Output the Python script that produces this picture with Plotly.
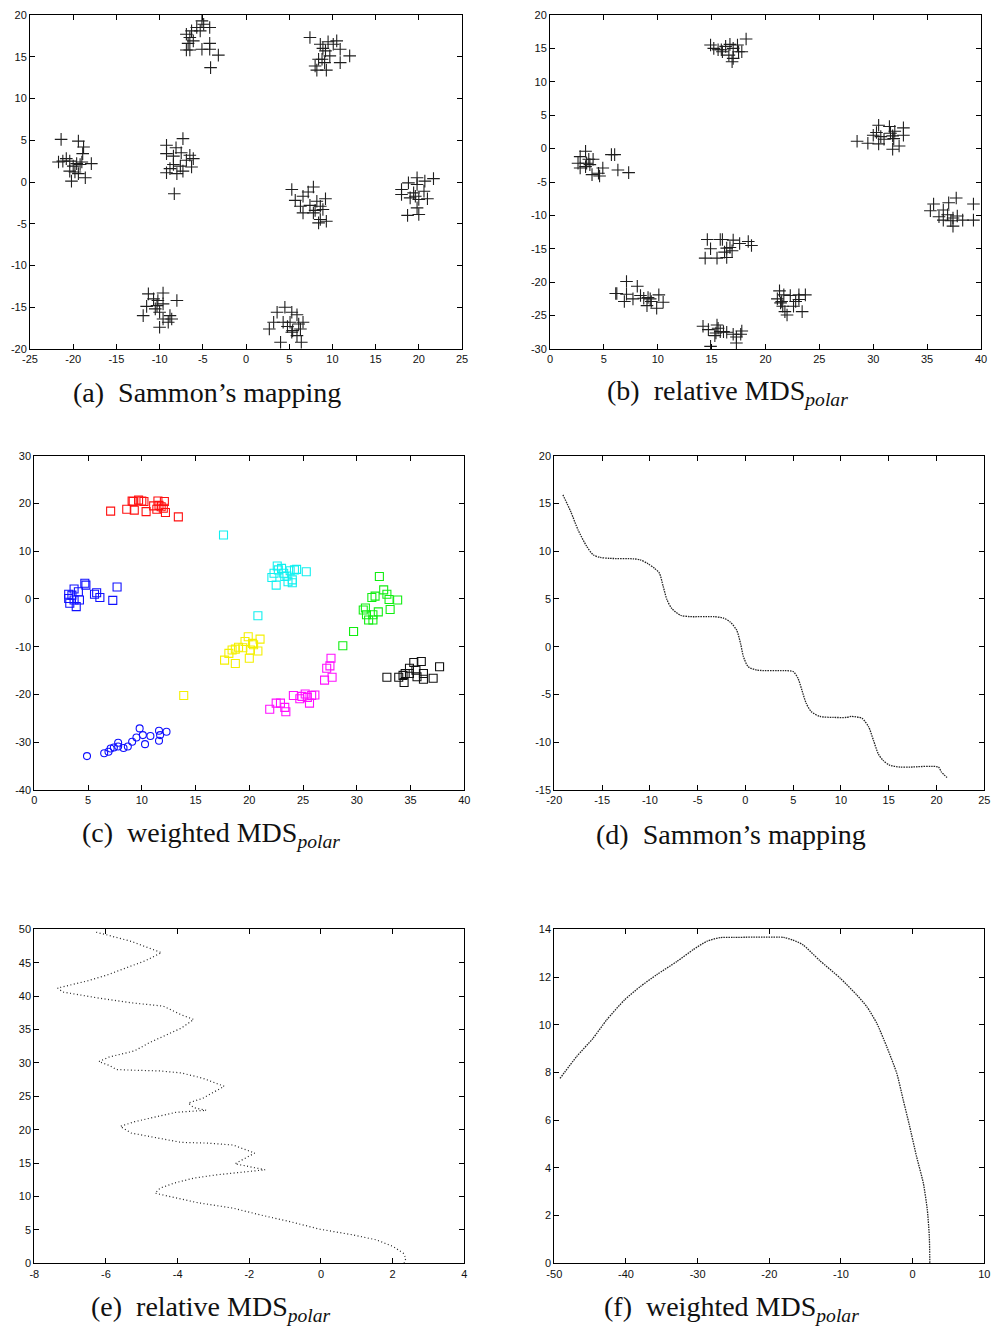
import plotly.graph_objects as go

W, H = 991, 1331

# ---------------- (a) Sammon's mapping : scattered clusters ----------------
a_x = [-21.4, -19.4, -18.8, -18.9, -21.7, -20.8, -20.4, -19.6, -19.0, -17.9, -20.4, -19.8, -19.4, -20.2, -18.6, -21.2, -20.0, -19.2,
       -9.2, -7.3, -8.1, -7.5, -9.2, -8.4, -6.5, -6.1, -6.9, -8.4, -7.6, -6.3, -9.2, -8.0, -7.3, -8.3, -8.8,
       -6.9, -6.3, -5.7, -4.9, -5.1, -4.2, -5.3, -6.5, -6.1, -6.9, -6.5, -5.1, -4.2, -4.2, -3.2, -4.1, -6.7,
       7.4, 8.6, 9.5, 10.1, 10.5, 10.9, 9.2, 9.7, 12.0, 10.9, 8.4, 8.8, 8.0, 8.2, 9.3, 9.1, 8.9,
       5.3, 7.8, 7.2, 6.6, 5.7, 9.2, 8.2, 6.3, 7.4, 8.6, 8.0, 8.9, 6.6, 7.8, 8.6, 9.3, 8.4,
       18.0, 18.8, 19.8, 20.7, 21.7, 19.8, 20.6, 18.0, 19.0, 19.6, 20.0, 21.0, 19.8, 18.7, 20.0, 19.4,
       -11.3, -9.6, -8.0, -10.7, -10.2, -11.5, -10.3, -9.6, -11.9, -10.0, -8.8, -8.6, -9.6, -9.0, -10.0, -10.5,
       4.5, 3.6, 5.3, 5.9, 3.2, 4.3, 5.1, 6.1, 6.6, 2.7, 5.4, 6.3, 5.3, 5.9, 4.0, 6.4, 4.8]
a_y = [5.1, 4.9, 4.2, 3.4, 2.4, 2.8, 2.5, 2.2, 2.4, 2.2, 1.3, 1.2, 1.0, 0.1, 0.5, 2.5, 1.9, 2.1,
       4.4, 5.2, 4.1, 3.5, 3.4, 3.1, 3.2, 2.8, 2.6, 2.1, 1.9, 1.8, 1.1, 1.0, 1.3, -1.4, 1.6,
       17.7, 18.1, 18.5, 18.9, 19.3, 18.5, 18.1, 17.3, 16.9, 15.8, 15.8, 15.9, 16.6, 15.9, 15.2, 13.7, 16.6,
       17.3, 16.5, 16.8, 16.5, 16.9, 15.9, 15.7, 15.1, 15.1, 14.3, 14.7, 14.7, 13.9, 13.4, 13.4, 14.3, 16.0,
       -0.9, -0.6, -1.2, -1.7, -2.2, -2.0, -2.3, -2.9, -2.8, -2.9, -3.4, -3.3, -3.7, -3.7, -4.5, -4.7, -4.9,
       -0.9, -0.1, 0.5, 0.1, 0.4, -0.3, -1.1, -1.5, -1.9, -1.7, -2.1, -2.0, -3.1, -4.0, -3.9, -1.3,
       -13.4, -13.3, -14.2, -14.0, -14.2, -14.9, -14.8, -14.6, -16.0, -15.6, -16.0, -16.4, -16.4, -16.8, -17.4, -15.2,
       -15.0, -15.6, -15.6, -15.9, -16.8, -16.8, -16.8, -17.0, -16.8, -17.6, -17.8, -17.6, -18.0, -18.4, -19.2, -19.2, -17.3]

# ---------------- (b) relative MDS polar : scattered clusters ----------------
b_x = [14.9, 15.2, 15.6, 16.0, 16.3, 16.7, 17.0, 17.4, 18.2, 16.6, 17.0, 16.9, 17.8, 17.5, 15.9,
       3.3, 2.8, 3.6, 4.0, 2.6, 3.4, 3.7, 2.8, 3.3, 3.9, 4.5, 4.9, 5.7, 6.0, 6.3, 7.3, 4.6,
       28.5, 29.5, 30.0, 30.3, 30.5, 30.7, 30.5, 31.5, 31.6, 31.8, 31.9, 31.8, 32.8, 32.8, 32.4, 31.0, 32.0,
       35.3, 35.6, 36.1, 36.5, 36.9, 37.0, 37.7, 37.2, 37.4, 37.4, 37.8, 38.3, 39.3, 39.3, 36.5,
       14.6, 14.9, 14.4, 15.8, 16.0, 17.0, 17.6, 18.4, 18.7, 16.4, 16.7, 16.2, 15.5, 16.4, 16.9,
       7.1, 8.1, 6.1, 6.2, 7.1, 7.7, 8.4, 9.1, 9.3, 10.1, 10.5, 6.9, 9.0, 9.9, 8.7, 9.4,
       21.3, 21.7, 21.1, 21.4, 21.6, 21.8, 22.0, 22.3, 22.8, 22.6, 23.1, 23.4, 23.7, 23.1, 21.5,
       14.2, 14.7, 15.5, 15.6, 15.8, 15.4, 14.9, 16.4, 17.0, 17.3, 17.3, 17.8, 17.7, 16.1, 15.3]
b_y = [15.5, 15.0, 14.8, 14.5, 15.3, 15.6, 15.0, 15.5, 16.4, 14.0, 13.5, 13.0, 14.5, 14.5, 14.8,
       -0.4, -1.2, -1.6, -1.6, -2.2, -2.2, -2.4, -2.9, -2.7, -3.9, -3.7, -2.9, -0.9, -0.9, -3.2, -3.6, -4.1,
       1.1, 0.8, 2.0, 2.4, 3.5, 1.8, 0.7, 3.3, 2.3, 1.9, 1.5, -0.1, 3.1, 2.0, 0.4, 1.4, 2.6,
       -9.3, -8.3, -10.2, -9.2, -9.9, -8.1, -7.4, -10.8, -10.4, -11.6, -10.1, -10.7, -8.3, -10.7, -10.7,
       -13.6, -15.0, -16.4, -13.6, -13.6, -13.7, -14.2, -13.9, -14.5, -14.9, -14.8, -15.5, -16.4, -16.3, -15.3,
       -19.9, -20.6, -21.7, -21.7, -21.8, -22.5, -22.0, -22.3, -22.5, -21.9, -23.0, -22.9, -23.5, -23.9, -22.4, -22.9,
       -21.3, -21.9, -22.5, -23.1, -23.6, -24.4, -24.9, -22.0, -22.9, -23.6, -22.6, -24.4, -21.9, -21.9, -22.9,
       -26.6, -27.1, -26.4, -26.9, -27.4, -27.6, -29.6, -27.5, -27.8, -28.2, -29.1, -27.3, -27.8, -27.4, -28.0]

# ---------------- (c) weighted MDS polar : coloured groups ----------------
c_red_x = [7.1, 8.6, 9.1, 9.3, 10.0, 10.2, 10.4, 11.1, 11.5, 11.4, 12.0, 12.1, 12.2, 13.4, 9.2, 9.7, 11.6, 11.8]
c_red_y = [18.4, 18.8, 20.5, 18.6, 20.5, 20.4, 18.3, 19.5, 20.5, 18.8, 19.0, 20.4, 18.1, 17.2, 20.4, 20.7, 19.6, 19.3]
c_cyan_x = [17.6, 20.8, 22.1, 22.3, 22.6, 22.7, 23.0, 22.5, 23.2, 23.5, 23.8, 23.6, 24.0, 24.2, 24.4, 25.3, 23.3, 24.0]
c_cyan_y = [13.4, -3.5, 4.5, 5.4, 6.9, 6.1, 6.4, 2.9, 5.4, 4.8, 5.9, 3.6, 3.4, 6.1, 6.2, 5.7, 4.7, 4.0]
c_blue_x = [3.2, 3.2, 3.3, 3.7, 3.9, 4.2, 4.1, 4.7, 4.8, 5.6, 5.8, 6.1, 7.3, 7.7, 3.5, 3.7]
c_blue_y = [1.0, 0.1, -0.9, 2.1, -1.6, -0.2, 1.5, 3.3, 2.9, 1.0, 1.3, 0.3, -0.3, 2.5, 0.8, -0.2]
c_circ_x = [4.9, 6.5, 6.9, 7.1, 7.4, 7.8, 7.8, 8.3, 8.7, 9.1, 9.5, 9.8, 10.1, 10.3, 10.8, 11.6, 11.7, 11.6, 12.3]
c_circ_y = [-32.9, -32.3, -32.0, -31.3, -31.1, -30.9, -30.1, -31.2, -30.9, -29.9, -29.0, -27.1, -28.5, -30.4, -28.7, -27.6, -28.5, -29.7, -27.8]
c_yellow_x = [13.9, 17.7, 18.7, 18.1, 18.4, 19.0, 19.6, 19.9, 20.0, 20.1, 20.4, 20.8, 21.0, 19.4, 18.7, 20.3]
c_yellow_y = [-20.2, -12.8, -13.5, -11.4, -10.7, -10.1, -8.9, -7.9, -12.4, -10.7, -9.6, -10.9, -8.4, -10.2, -10.5, -9.3]
c_mag_x = [21.9, 22.5, 22.9, 23.3, 23.4, 24.1, 24.7, 24.9, 25.2, 25.6, 25.8, 26.1, 27.0, 27.2, 27.5, 27.7, 27.6, 25.4]
c_mag_y = [-23.1, -21.8, -21.8, -22.7, -23.6, -20.2, -20.9, -20.4, -19.9, -21.8, -20.2, -20.1, -17.0, -14.5, -14.0, -16.4, -12.4, -20.6]
c_green_x = [28.7, 29.7, 32.1, 30.6, 30.9, 31.1, 31.5, 31.4, 31.7, 32.0, 32.5, 32.8, 33.0, 33.1, 33.8, 30.8, 31.5]
c_green_y = [-9.8, -6.8, 4.7, -2.3, -3.3, -4.4, -4.4, 0.3, 0.6, -2.7, 1.9, 1.0, -0.1, -2.2, -0.2, -1.9, -3.3]
c_black_x = [32.8, 33.9, 34.4, 34.5, 34.9, 35.3, 35.5, 35.6, 36.0, 36.2, 36.2, 37.1, 37.7, 34.3, 34.9]
c_black_y = [-16.4, -16.4, -17.5, -15.6, -14.5, -13.3, -14.9, -16.3, -13.1, -15.6, -16.8, -16.6, -14.2, -16.0, -15.6]

# ---------------- (d) Sammon's mapping : staircase curve ----------------
d_x = [-19.1, -18.3, -17.5, -16.6, -15.9, -15.2, -14.2, -11.7, -11.0, -10.2, -9.5, -9.0, -8.6, -8.2, -7.7, -6.8,
       -5.8, -3.3, -2.3, -1.6, -0.9, -0.5, -0.2, 0.3, 1.2, 4.0, 5.0, 5.5, 5.9, 6.35, 6.9, 7.8, 9.2, 10.6, 11.1,
       12.2, 12.9, 13.4, 13.9, 14.4, 15.1, 16.2, 17.2, 20.2, 20.5, 21.1]
d_y = [15.9, 14.2, 12.2, 10.5, 9.6, 9.35, 9.25, 9.2, 9.1, 8.7, 8.2, 7.7, 6.3, 4.9, 4.0, 3.3,
       3.15, 3.15, 3.0, 2.6, 1.7, 0.3, -1.05, -2.1, -2.45, -2.5, -2.6, -3.3, -4.5, -5.9, -6.8, -7.3, -7.4, -7.4, -7.3,
       -7.5, -8.4, -9.8, -11.2, -11.9, -12.4, -12.6, -12.6, -12.6, -13.1, -13.7]

# ---------------- (e) relative MDS polar : zig-zag curve ----------------
e_x = [2.32, 2.37, 2.3, 2.02, 1.55, 0.9, -0.03, -0.87, -1.7, -2.45, -3.47, -4.3, -4.63, -4.49, -4.1, -3.55, -2.9,
       -1.56, -2.0, -2.4, -1.85, -2.45, -3.2, -3.9, -5.3, -5.6, -5.2, -4.5, -4.05, -3.2, -3.55, -3.7, -3.3, -2.7,
       -3.3, -3.9, -4.5, -5.2, -5.7, -5.9, -6.2, -5.9, -5.2, -4.8, -4.4, -3.9, -3.55, -3.9, -4.4, -5.3, -6.2, -7.2,
       -7.35, -6.5, -6.0, -5.4, -4.9, -4.45, -4.9, -5.3, -6.0, -6.3]
e_y = [0.0, 0.75, 1.5, 2.5, 3.5, 4.25, 5.1, 6.25, 7.25, 8.25, 9.1, 10.1, 10.5, 11.25, 12.0, 12.75, 13.25,
       14.0, 14.5, 14.9, 16.5, 17.7, 18.0, 18.1, 19.5, 20.5, 21.2, 22.0, 22.6, 22.9, 23.3, 24.0, 24.7, 26.5,
       27.7, 28.5, 28.8, 28.9, 29.0, 29.6, 30.2, 30.9, 31.8, 33.0, 34.0, 35.2, 36.5, 37.2, 38.5, 39.0, 39.7, 40.6,
       41.2, 42.3, 43.1, 44.3, 45.3, 46.5, 47.4, 48.2, 49.2, 49.6]

# ---------------- (f) weighted MDS polar : arch curve ----------------
f_x = [-49.2, -46.9, -44.6, -42.7, -40.2, -38.0, -35.7, -32.9, -30.6, -28.7, -26.9, -25.0, -18.0, -16.7, -15.3,
       -13.0, -10.1, -7.8, -6.4, -5.0, -3.6, -2.2, -1.3, -0.5, 0.56, 1.5, 2.05, 2.33, 2.4]
f_y = [7.75, 8.66, 9.43, 10.2, 11.04, 11.6, 12.1, 12.65, 13.15, 13.5, 13.65, 13.66, 13.66, 13.55, 13.35,
       12.7, 11.95, 11.25, 10.76, 10.06, 9.07, 7.95, 6.83, 5.85, 4.46, 3.35, 2.23, 1.12, 0.0]

# ---------------- tick values ----------------
a_xticks = [-25, -20, -15, -10, -5, 0, 5, 10, 15, 20, 25]
a_yticks = [-20, -15, -10, -5, 0, 5, 10, 15, 20]
b_xticks = [0, 5, 10, 15, 20, 25, 30, 35, 40]
b_yticks = [-30, -25, -20, -15, -10, -5, 0, 5, 10, 15, 20]
c_xticks = [0, 5, 10, 15, 20, 25, 30, 35, 40]
c_yticks = [-40, -30, -20, -10, 0, 10, 20, 30]
d_xticks = [-20, -15, -10, -5, 0, 5, 10, 15, 20, 25]
d_yticks = [-15, -10, -5, 0, 5, 10, 15, 20]
e_xticks = [-8, -6, -4, -2, 0, 2, 4]
e_yticks = [0, 5, 10, 15, 20, 25, 30, 35, 40, 45, 50]
f_xticks = [-50, -40, -30, -20, -10, 0, 10]
f_yticks = [0, 2, 4, 6, 8, 10, 12, 14]

captions = ["(a)  Sammon\u2019s mapping",
            "(b)  relative MDS<sub><i>polar</i></sub>",
            "(c)  weighted MDS<sub><i>polar</i></sub>",
            "(d)  Sammon\u2019s mapping",
            "(e)  relative MDS<sub><i>polar</i></sub>",
            "(f)  weighted MDS<sub><i>polar</i></sub>"]

# ---------------- layout helpers (pixel boxes of each plot area) ----------------
boxes = [(30, 462, 15, 349), (550, 981, 15, 349),
         (34.3, 464.3, 455.7, 790), (554.3, 984.3, 455.7, 790),
         (34.3, 464.3, 929.3, 1263.3), (554.3, 984.3, 929.3, 1263.3)]
ranges = [((-25, 25), (-20, 20)), ((0, 40), (-30, 20)), ((0, 40), (-40, 30)),
          ((-20, 25), (-15, 20)), ((-8, 4), (0, 50)), ((-50, 10), (0, 14))]
ticks = [(a_xticks, a_yticks), (b_xticks, b_yticks), (c_xticks, c_yticks),
         (d_xticks, d_yticks), (e_xticks, e_yticks), (f_xticks, f_yticks)]
cap_pos = [(207, 393), (727, 393), (211, 834), (731, 834), (211, 1308), (731, 1308)]

tick_font = dict(family="Liberation Sans, Arial, sans-serif", size=11, color="#111")

fig = go.Figure()
layout = dict(width=W, height=H, margin=dict(l=0, r=0, t=0, b=0),
              paper_bgcolor="white", plot_bgcolor="white", showlegend=False)

for i, ((l, r, t, b), (xr, yr), (xt, yt)) in enumerate(zip(boxes, ranges, ticks)):
    n = "" if i == 0 else str(i + 1)
    common = dict(showline=True, linecolor="#000", linewidth=1, mirror="ticks",
                  ticks="inside", ticklen=5, tickwidth=1, tickcolor="#000",
                  showgrid=False, zeroline=False, tickfont=tick_font, automargin=False)
    layout["xaxis" + n] = dict(domain=[l / W, r / W], range=list(xr), anchor="y" + n,
                               tickmode="array", tickvals=xt, ticktext=[str(v) for v in xt], **common)
    layout["yaxis" + n] = dict(domain=[1 - b / H, 1 - t / H], range=list(yr), anchor="x" + n,
                               tickmode="array", tickvals=yt, ticktext=[str(v) for v in yt], **common)

cross = dict(symbol="cross-thin-open", size=9, line=dict(width=1.1, color="#1e1e1e"), color="#1e1e1e")
fig.add_trace(go.Scatter(x=a_x, y=a_y, mode="markers", marker=cross, xaxis="x", yaxis="y"))
fig.add_trace(go.Scatter(x=b_x, y=b_y, mode="markers", marker=cross, xaxis="x2", yaxis="y2"))

groups = [(c_red_x, c_red_y, "#ff1010", "square-open"),
          (c_cyan_x, c_cyan_y, "#10f0f0", "square-open"),
          (c_blue_x, c_blue_y, "#1010ff", "square-open"),
          (c_circ_x, c_circ_y, "#1010ff", "circle-open"),
          (c_yellow_x, c_yellow_y, "#f4f000", "square-open"),
          (c_mag_x, c_mag_y, "#ff10ff", "square-open"),
          (c_green_x, c_green_y, "#10ee10", "square-open"),
          (c_black_x, c_black_y, "#111111", "square-open")]
for gx, gy, col, sym in groups:
    fig.add_trace(go.Scatter(x=gx, y=gy, mode="markers", xaxis="x3", yaxis="y3",
                             marker=dict(symbol=sym, size=8 if sym == "square-open" else 7,
                                         color=col, line=dict(width=1.1, color=col))))

fig.add_trace(go.Scatter(x=d_x, y=d_y, mode="lines", xaxis="x4", yaxis="y4",
                         line=dict(color="#222", width=1.3, dash="1.5px,1px", shape="spline", smoothing=0.7)))
fig.add_trace(go.Scatter(x=e_x, y=e_y, mode="lines", xaxis="x5", yaxis="y5",
                         line=dict(color="#222", width=1.2, dash="1px,2.5px")))
fig.add_trace(go.Scatter(x=f_x, y=f_y, mode="lines", xaxis="x6", yaxis="y6",
                         line=dict(color="#222", width=1.3, dash="1.5px,1px", shape="spline", smoothing=0.6)))

anns = []
for text, (cx, cy) in zip(captions, cap_pos):
    anns.append(dict(text=text, x=cx / W, y=1 - cy / H, xref="paper", yref="paper",
                     xanchor="center", yanchor="middle", showarrow=False,
                     font=dict(family="Liberation Serif, Times New Roman, serif", size=28, color="#111")))
layout["annotations"] = anns

fig.update_layout(**layout)
fig.write_html("out.html")
